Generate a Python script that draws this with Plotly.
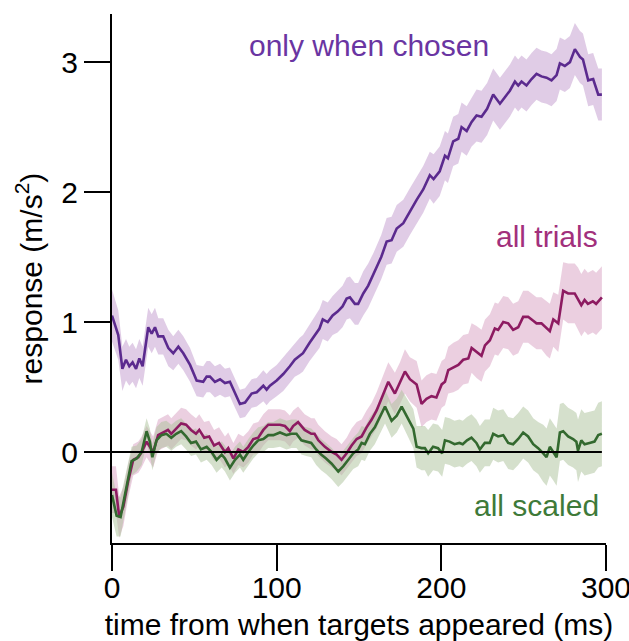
import plotly.graph_objects as go

# ---------------- data ----------------
# "only when chosen" (purple)
chosen_t = [0, 3.8, 6.3, 8.5, 10.5,
            12.5, 14.6, 16.6, 18.6, 22,
            24.1, 26.1, 28.1, 31.1, 34.2,
            37.2, 40.3, 43.3, 47.4, 51.4,
            55.4, 57.5, 59.5, 62.5, 65.6,
            68.6, 71.6, 74.7, 77.7, 80.8,
            84.8, 87.9, 91.9, 93.9, 95.9,
            100, 104, 108, 111, 114,
            116, 120, 123, 126, 128,
            131, 134, 137, 140, 142.5,
            144.5, 147.5, 149.5, 152.6, 155.6,
            158.7, 161.7, 163.5, 166.8, 169.8,
            172.9, 176.9, 180.9, 185, 189,
            193, 195.3, 199, 202.2, 204,
            207.2, 210.3, 212.3, 215.4, 218.4,
            221.4, 224.4, 227.8, 231.5, 235.6,
            238.6, 241.6, 244.7, 246.7, 248.7,
            251.7, 254.8, 257.8, 260.8, 263.9,
            266.9, 270, 272, 275, 278.1,
            281.1, 284.2, 286, 289.2, 292.2,
            295.3, 297.5]
chosen_v = [1.05, 0.90, 0.64, 0.71, 0.66,
            0.69, 0.64, 0.72, 0.66, 0.96,
            0.91, 0.96, 0.89, 0.89, 0.80,
            0.76, 0.81, 0.76, 0.67, 0.55,
            0.54, 0.58, 0.58, 0.54, 0.56,
            0.53, 0.54, 0.45, 0.37, 0.38,
            0.45, 0.46, 0.51, 0.48, 0.51,
            0.55, 0.60, 0.66, 0.71, 0.74,
            0.76, 0.84, 0.90, 0.95, 1.02,
            1.00, 1.05, 1.08, 1.12, 1.18,
            1.19, 1.14, 1.14, 1.22, 1.28,
            1.36, 1.45, 1.50, 1.62, 1.63,
            1.72, 1.76, 1.85, 1.94, 2.02,
            2.13, 2.10, 2.16, 2.28, 2.26,
            2.39, 2.41, 2.50, 2.47, 2.54,
            2.59, 2.58, 2.64, 2.75, 2.68,
            2.73, 2.78, 2.85, 2.82, 2.85,
            2.82, 2.87, 2.91, 2.89, 2.88,
            2.86, 2.90, 2.99, 2.97, 3.00,
            3.10, 3.04, 3.02, 2.86, 2.87,
            2.75, 2.75]
chosen_sem = [0.20, 0.19, 0.17, 0.16, 0.15,
              0.15, 0.15, 0.15, 0.15, 0.15,
              0.15, 0.15, 0.14, 0.14, 0.14,
              0.13, 0.13, 0.13, 0.13, 0.12,
              0.12, 0.12, 0.12, 0.12, 0.12,
              0.11, 0.11, 0.11, 0.11, 0.11,
              0.11, 0.11, 0.12, 0.12, 0.12,
              0.12, 0.13, 0.13, 0.13, 0.14,
              0.14, 0.14, 0.15, 0.15, 0.15,
              0.15, 0.15, 0.16, 0.16, 0.16,
              0.16, 0.16, 0.16, 0.17, 0.17,
              0.17, 0.17, 0.17, 0.18, 0.18,
              0.18, 0.18, 0.18, 0.18, 0.18,
              0.18, 0.19, 0.19, 0.19, 0.19,
              0.19, 0.19, 0.19, 0.19, 0.19,
              0.20, 0.20, 0.20, 0.20, 0.20,
              0.20, 0.20, 0.20, 0.20, 0.20,
              0.20, 0.20, 0.20, 0.20, 0.20,
              0.20, 0.20, 0.20, 0.20, 0.20,
              0.20, 0.20, 0.20, 0.20, 0.20,
              0.20, 0.20]

# "all trials" (magenta)
trials_t = [0, 2.4, 4.4, 6.9, 9.9,
            12.9, 16, 18, 21, 23,
            25, 28, 31, 34, 36,
            39, 42, 45, 48, 51,
            53, 56, 59, 62, 65,
            68.6, 70.6, 73.7, 76.7, 79.7,
            82.8, 85.8, 88.8, 91.9, 94.9,
            99, 102, 105, 108, 110,
            113, 117, 121, 123, 125.3,
            129.3, 133.4, 136.4, 139.4, 142.5,
            145.5, 148.6, 151.6, 154.6, 157.7,
            160.7, 163.7, 167.8, 171.8, 174.9,
            177.9, 180.9, 185, 188, 191,
            194, 197, 200.2, 202.2, 204.2,
            207.3, 210.3, 213.3, 216.4, 218.4,
            221.4, 224.4, 226.5, 229.5, 232.5,
            234.5, 237.6, 240.6, 243.6, 246.7,
            249.7, 252.7, 255.8, 257.8, 260.8,
            263.9, 265.9, 268, 271, 274,
            277, 281, 283, 285, 287,
            289, 292, 294, 297.5]
trials_v = [-0.29, -0.29, -0.50, -0.42, -0.22,
            -0.06, -0.04, 0.00, 0.08, 0.04,
            0.00, 0.13, 0.15, 0.17, 0.14,
            0.18, 0.22, 0.21, 0.17, 0.14,
            0.17, 0.11, 0.12, 0.05, 0.07,
            0.00, 0.03, -0.05, 0.02, 0.00,
            0.04, 0.10, 0.11, 0.17, 0.21,
            0.21, 0.21, 0.20, 0.16, 0.20,
            0.23, 0.17, 0.14, 0.14, 0.09,
            0.04, 0.00, -0.02, -0.06, -0.01,
            0.05, 0.10, 0.12, 0.19, 0.25,
            0.32, 0.41, 0.54, 0.45, 0.53,
            0.62, 0.56, 0.52, 0.37, 0.41,
            0.43, 0.42, 0.52, 0.54, 0.63,
            0.65, 0.67, 0.71, 0.72, 0.80,
            0.77, 0.74, 0.82, 0.86, 0.95,
            0.94, 1.00, 0.99, 0.94, 0.96,
            1.04, 1.04, 1.01, 0.99, 0.99,
            0.95, 0.93, 1.02, 0.99, 1.24,
            1.22, 1.22, 1.18, 1.13, 1.17,
            1.14, 1.16, 1.14, 1.19]
trials_sem = [0.18, 0.18, 0.16, 0.15, 0.13,
              0.12, 0.12, 0.12, 0.12, 0.12,
              0.12, 0.12, 0.12, 0.12, 0.12,
              0.12, 0.12, 0.12, 0.12, 0.12,
              0.12, 0.12, 0.12, 0.12, 0.12,
              0.12, 0.12, 0.12, 0.12, 0.12,
              0.12, 0.12, 0.12, 0.12, 0.12,
              0.12, 0.12, 0.12, 0.12, 0.12,
              0.12, 0.12, 0.12, 0.12, 0.12,
              0.12, 0.12, 0.12, 0.12, 0.12,
              0.13, 0.13, 0.13, 0.13, 0.13,
              0.14, 0.15, 0.15, 0.16, 0.16,
              0.17, 0.17, 0.18, 0.18, 0.18,
              0.18, 0.18, 0.18, 0.18, 0.18,
              0.19, 0.19, 0.19, 0.19, 0.19,
              0.20, 0.20, 0.20, 0.20, 0.20,
              0.20, 0.20, 0.20, 0.20, 0.20,
              0.20, 0.20, 0.20, 0.20, 0.20,
              0.21, 0.21, 0.21, 0.22, 0.22,
              0.23, 0.23, 0.24, 0.24, 0.24,
              0.24, 0.24, 0.24, 0.24]

# "all scaled" (green)
scaled_t = [0, 2.8, 5.2, 7.9, 11.9,
            15, 18, 21, 23, 24.5,
            27, 30, 33, 36, 39,
            42, 45, 48, 51, 54,
            57.5, 60.5, 63.5, 66.6, 68.6,
            71.6, 74.7, 77.7, 79.7, 82.8,
            85.8, 88.8, 91.9, 94.9, 98,
            102, 106, 109, 112, 115,
            118, 121, 124, 127, 130,
            133.4, 137.4, 140.4, 143.5, 146.5,
            149.5, 151.6, 153.6, 156.6, 159.6,
            162.6, 165.8, 169.8, 172.9, 175.9,
            179.9, 183, 185, 188, 190,
            192, 195, 198, 200.5, 202.2,
            205, 208, 211, 213, 215.6,
            218.3, 221.3, 223.4, 226.4, 229.4,
            231.5, 234.5, 237.6, 240.6, 243.6,
            246.7, 249.7, 252.7, 255.8, 258.8,
            261.9, 263.9, 265.9, 268, 270,
            272, 274, 277, 280, 282,
            283, 285, 287, 290, 293,
            295.3, 297.5]
scaled_v = [-0.33, -0.49, -0.50, -0.33, -0.07,
            -0.05, 0.00, 0.16, 0.08, -0.04,
            0.09, 0.13, 0.14, 0.11, 0.14,
            0.16, 0.12, 0.07, 0.08, 0.02,
            0.04, 0.00, -0.06, -0.02, -0.05,
            -0.12, -0.06, -0.02, -0.06, 0.00,
            0.05, 0.09, 0.10, 0.13, 0.13,
            0.15, 0.13, 0.14, 0.14, 0.09,
            0.08, 0.07, 0.02, -0.02, -0.05,
            -0.09, -0.15, -0.11, -0.06, -0.01,
            0.02, 0.07, 0.06, 0.14, 0.19,
            0.27, 0.35, 0.24, 0.28, 0.35,
            0.25, 0.18, 0.04, 0.03, 0.03,
            -0.01, 0.04, 0.03, -0.01, 0.09,
            0.08, 0.06, 0.07, 0.06, 0.09,
            0.11, 0.07, 0.02, 0.07, 0.07,
            0.14, 0.12, 0.13, 0.07, 0.06,
            0.10, 0.15, 0.12, 0.06, 0.03,
            -0.01, -0.04, 0.04, 0.00, -0.04,
            0.15, 0.16, 0.12, 0.10, 0.08,
            0.01, 0.09, 0.06, 0.07, 0.08,
            0.13, 0.14]
scaled_sem = [0.17, 0.16, 0.15, 0.13, 0.11,
              0.10, 0.10, 0.10, 0.10, 0.10,
              0.10, 0.10, 0.10, 0.10, 0.10,
              0.10, 0.10, 0.10, 0.10, 0.10,
              0.10, 0.10, 0.10, 0.10, 0.10,
              0.10, 0.10, 0.10, 0.10, 0.10,
              0.10, 0.10, 0.10, 0.10, 0.10,
              0.11, 0.11, 0.11, 0.11, 0.11,
              0.11, 0.11, 0.12, 0.12, 0.12,
              0.12, 0.12, 0.12, 0.12, 0.12,
              0.13, 0.13, 0.13, 0.13, 0.13,
              0.13, 0.13, 0.13, 0.13, 0.13,
              0.14, 0.15, 0.16, 0.17, 0.17,
              0.18, 0.18, 0.18, 0.18, 0.18,
              0.18, 0.18, 0.18, 0.18, 0.18,
              0.18, 0.18, 0.18, 0.18, 0.18,
              0.20, 0.20, 0.20, 0.20, 0.20,
              0.20, 0.20, 0.20, 0.20, 0.20,
              0.22, 0.22, 0.22, 0.22, 0.22,
              0.22, 0.22, 0.22, 0.22, 0.22,
              0.24, 0.24, 0.24, 0.24, 0.24,
              0.25, 0.25]

series_names = ["only when chosen", "all trials", "all scaled"]
y_ticks = [0, 1, 2, 3]
x_ticks = [0, 100, 200, 300]

# ---------------- styling ----------------
FONT = "Liberation Sans, Arial, Helvetica, sans-serif"
line_colors = ["#5b2a8e", "#8d1b61", "#33692f"]
band_colors = ["rgba(193,153,205,0.5)", "rgba(215,159,193,0.5)", "rgba(171,193,153,0.5)"]
text_colors = ["#6a35a2", "#a2307c", "#3e7a39"]

data = [(chosen_t, chosen_v, chosen_sem),
        (trials_t, trials_v, trials_sem),
        (scaled_t, scaled_v, scaled_sem)]
for t, v, s in data:
    assert len(t) == len(v) == len(s), (len(t), len(v), len(s))

fig = go.Figure()

# shaded bands
for (t, v, s), fc in zip(data, band_colors):
    upper = [a + b for a, b in zip(v, s)]
    lower = [a - b for a, b in zip(v, s)]
    fig.add_trace(go.Scatter(
        x=list(t) + list(t)[::-1],
        y=upper + lower[::-1],
        fill="toself", fillcolor=fc,
        line=dict(width=0), mode="lines",
        hoverinfo="skip", showlegend=False))

# zero line
fig.add_shape(type="line", xref="x", yref="y",
              x0=0, x1=max(chosen_t), y0=0, y1=0,
              line=dict(color="black", width=2), layer="above")

# mean lines
for (t, v, s), lc, name in zip(data, line_colors, series_names):
    fig.add_trace(go.Scatter(x=t, y=v, mode="lines", name=name,
                             line=dict(color=lc, width=2.6),
                             showlegend=False))

# series labels
label_pos = [(156, 3.13), (264, 1.66), (258, -0.41)]
for name, (lx, ly), tc in zip(series_names, label_pos, text_colors):
    fig.add_annotation(x=lx, y=ly, xref="x", yref="y", text=name,
                       showarrow=False, font=dict(size=30, color=tc, family=FONT),
                       xanchor="center", yanchor="middle")

fig.update_layout(
    width=629, height=641,
    margin=dict(l=112, r=23, t=14, b=98, autoexpand=False),
    paper_bgcolor="white", plot_bgcolor="white",
    font=dict(family=FONT, size=30, color="black"),
    showlegend=False,
)
fig.update_xaxes(
    range=[0, 300], tickvals=x_ticks, ticktext=[str(x) for x in x_ticks],
    showgrid=False, zeroline=False, automargin=False,
    ticklabeloverflow="allow", ticklabelstandoff=-9,
    showline=True, linecolor="black", linewidth=2,
    ticks="outside", ticklen=26, tickwidth=2, tickcolor="black",
    tickfont=dict(size=30, family=FONT, color="black"),
    title=dict(text="time from when targets appeared (ms)",
               font=dict(size=30, family=FONT, color="black"), standoff=14),
)
fig.update_yaxes(
    range=[-0.70, 3.37], tickvals=y_ticks, ticktext=[str(y) for y in y_ticks],
    showgrid=False, zeroline=False, automargin=False,
    ticklabeloverflow="allow",
    showline=True, linecolor="black", linewidth=2,
    ticks="outside", ticklen=26, tickwidth=2, tickcolor="black",
    tickfont=dict(size=30, family=FONT, color="black"),
    title=dict(text="response (m/s<sup>2</sup>)",
               font=dict(size=30, family=FONT, color="black"), standoff=10),
)

fig.write_html("out.html")
